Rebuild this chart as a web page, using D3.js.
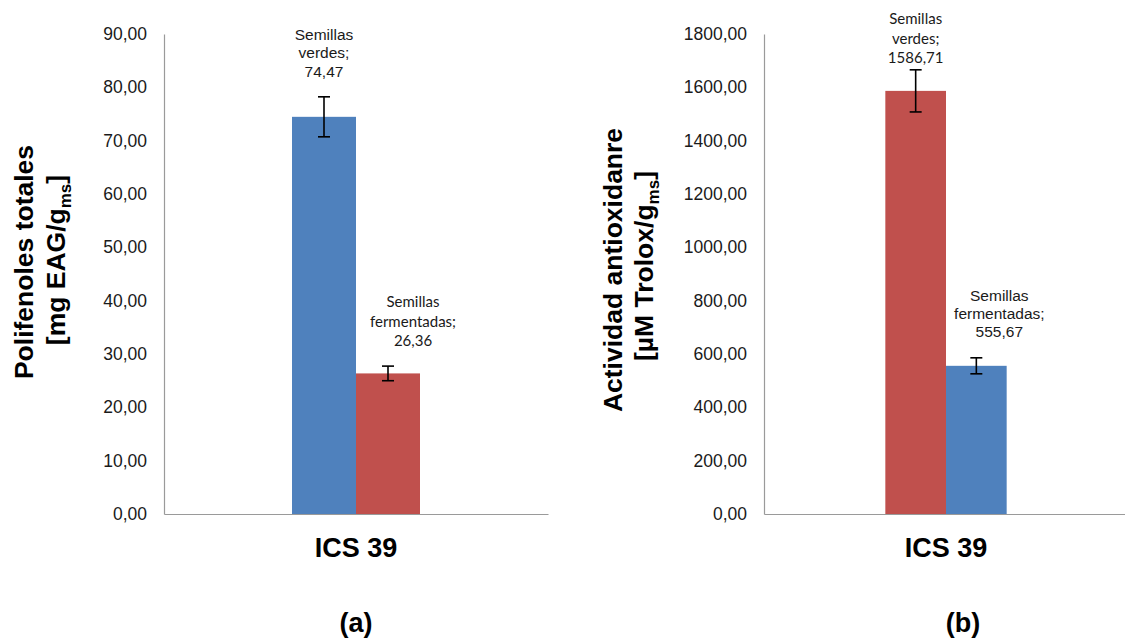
<!DOCTYPE html>
<html>
<head>
<meta charset="utf-8">
<script src="https://cdn.jsdelivr.net/npm/d3@7/dist/d3.min.js"></script>
<style>
  html, body { margin: 0; padding: 0; background: #fff; }
  svg { display: block; }
</style>
</head>
<body>
<svg id="chart" width="1125" height="640"></svg>
<script>
// ---------- data ----------
const categories = ["ICS 39"];
const seriesNames = ["Semillas verdes", "Semillas fermentadas"];

const valuesA = [74.47, 26.36];
const errorsA = [3.75, 1.37];
const ticksA = [0, 10, 20, 30, 40, 50, 60, 70, 80, 90];

const valuesB = [1586.71, 555.67];
const errorsB = [79, 30];
const ticksB = [0, 200, 400, 600, 800, 1000, 1200, 1400, 1600, 1800];

const panelLetters = ["(a)", "(b)"];

// ---------- drawing ----------
const svg = d3.select("#chart");
const BLUE = "#4F81BD", RED = "#C0504D";
const ARIAL = "'Liberation Sans', Arial, sans-serif";
const CALI = "Lato, 'Open Sans', sans-serif";
const fmt = v => d3.format(".2f")(v).replace(".", ",");

function panel(cfg) {
  const g = svg.append("g");
  const y = d3.scaleLinear().domain([0, cfg.ticks[cfg.ticks.length - 1]]).range([514, 34]);
  const x = d3.scaleBand().domain(categories).range([cfg.x0, cfg.x1]).paddingInner(0).paddingOuter(1);
  const xs = d3.scaleBand().domain(seriesNames).range([0, x.bandwidth()]);

  // y axis
  const ya = g.append("g").attr("transform", `translate(${cfg.x0},0)`)
    .call(d3.axisLeft(y).tickValues(cfg.ticks).tickSize(0).tickPadding(17).tickFormat(fmt));
  ya.select(".domain").attr("stroke", "#9a9a9a").attr("stroke-width", 1.2);
  ya.selectAll("text").attr("font-family", ARIAL).attr("font-size", 17.5).attr("fill", "#1a1a1a");

  // x axis
  const xa = g.append("g").attr("transform", `translate(0,514)`)
    .call(d3.axisBottom(x).tickSize(0).tickPadding(24));
  xa.select(".domain").attr("stroke", "#9a9a9a").attr("stroke-width", 1.2);
  xa.selectAll("text").attr("font-family", ARIAL).attr("font-size", 27)
    .attr("font-weight", "bold").attr("fill", "#000");

  // bars
  const data = seriesNames.map((s, i) => ({ s, v: cfg.values[i], e: cfg.errors[i], c: cfg.colors[i], lab: cfg.labels[i] }));
  const cat = categories[0];
  g.selectAll("rect.bar").data(data).enter().append("rect")
    .attr("class", "bar")
    .attr("x", d => x(cat) + xs(d.s))
    .attr("width", xs.bandwidth())
    .attr("y", d => y(d.v))
    .attr("height", d => y(0) - y(d.v))
    .attr("fill", d => d.c);

  // error bars
  const eg = g.selectAll("g.err").data(data).enter().append("g").attr("class", "err");
  const cx = d => x(cat) + xs(d.s) + xs.bandwidth() / 2;
  eg.append("line").attr("x1", cx).attr("x2", cx)
    .attr("y1", d => y(d.v + d.e)).attr("y2", d => y(d.v - d.e));
  eg.append("line").attr("x1", d => cx(d) - 6).attr("x2", d => cx(d) + 6)
    .attr("y1", d => y(d.v + d.e)).attr("y2", d => y(d.v + d.e));
  eg.append("line").attr("x1", d => cx(d) - 6).attr("x2", d => cx(d) + 6)
    .attr("y1", d => y(d.v - d.e)).attr("y2", d => y(d.v - d.e));
  eg.selectAll("line").attr("stroke", "#000").attr("stroke-width", 1.6);

  // data labels
  data.forEach(d => {
    const L = d.lab;
    const lines = d.s.split(" ");
    const txt = [lines[0], lines[1] + ";", fmt(d.v)];
    const bottom = y(d.v + d.e) + L.dy;
    const t = g.append("text").attr("text-anchor", "middle")
      .attr("font-family", L.font).attr("font-size", L.size).attr("fill", "#1a1a1a");
    txt.forEach((s, k) => {
      t.append("tspan").attr("x", cx(d) + L.dx).attr("y", bottom - (2 - k) * L.lh).text(s);
    });
  });

  // y title
  const tt = g.append("text")
    .attr("transform", `translate(${cfg.tx},${cfg.ty}) rotate(-90)`)
    .attr("text-anchor", "middle").attr("font-family", ARIAL)
    .attr("font-weight", "bold").attr("font-size", 26.5).attr("fill", "#000");
  tt.append("tspan").attr("x", 0).attr("y", 0).text(cfg.title1);
  const l2 = g.append("text")
    .attr("transform", `translate(${cfg.tx + cfg.tgap},${cfg.ty2}) rotate(-90)`)
    .attr("text-anchor", "middle").attr("font-family", ARIAL)
    .attr("font-weight", "bold").attr("font-size", 26.5).attr("fill", "#000");
  l2.append("tspan").text(cfg.title2);
  l2.append("tspan").attr("font-size", 17).attr("dy", 6).text("ms");
  l2.append("tspan").attr("dy", -6).text("]");

  // panel letter
  g.append("text").attr("x", x(cat) + x.bandwidth() / 2 + cfg.letterDx).attr("y", 632)
    .attr("text-anchor", "middle").attr("font-family", ARIAL)
    .attr("font-weight", "bold").attr("font-size", 27).attr("fill", "#000")
    .text(cfg.letter);
}

panel({
  x0: 164, x1: 548, ticks: ticksA, values: valuesA, errors: errorsA,
  colors: [BLUE, RED],
  labels: [
    { font: ARIAL, size: 15.5, lh: 18.5, dx: 0, dy: -20 },
    { font: CALI, size: 15, lh: 19.5, dx: 25, dy: -20 }
  ],
  title1: "Polifenoles totales", title2: "[mg EAG/g",
  tx: 33, ty: 262, tgap: 32, ty2: 260,
  letter: panelLetters[0], letterDx: 0
});

panel({
  x0: 764, x1: 1128, ticks: ticksB, values: valuesB, errors: errorsB,
  colors: [RED, BLUE],
  labels: [
    { font: CALI, size: 15, lh: 19.5, dx: 0, dy: -6.5 },
    { font: ARIAL, size: 15.5, lh: 18, dx: 23, dy: -21 }
  ],
  title1: "Actividad antioxidanre", title2: "[µM Trolox/g",
  tx: 622, ty: 270, tgap: 31, ty2: 266,
  letter: panelLetters[1], letterDx: 17
});
</script>
</body>
</html>
